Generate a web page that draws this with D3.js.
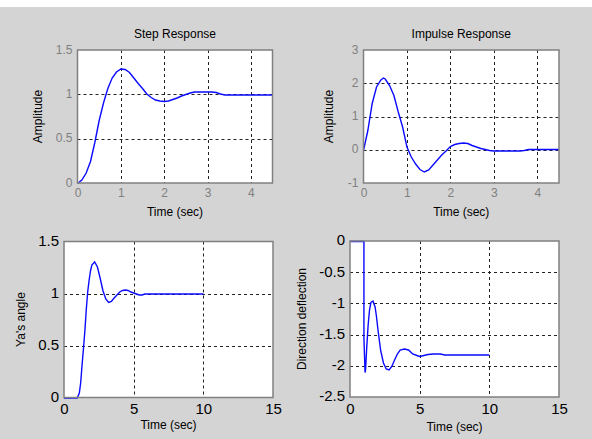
<!DOCTYPE html>
<html><head><meta charset="utf-8">
<script src="https://cdn.jsdelivr.net/npm/d3@7"></script>
<style>body{margin:0;background:#fff}svg{display:block}text{font-family:Arial,"Liberation Sans",sans-serif}</style>
</head><body>
<svg id="c" width="592" height="439"></svg>
<script>
// ---- data ----
const stepTime = [0,0.1,0.2,0.3,0.4,0.5,0.6,0.7,0.8,0.9,1.0,1.1,1.2,1.3,1.4,1.5,1.6,1.7,1.8,1.9,2.0,2.1,2.2,2.3,2.4,2.5,2.6,2.7,2.8,2.9,3.0,3.1,3.2,3.3,3.4,4.5];
const stepAmp  = [0,0.04,0.12,0.25,0.46,0.71,0.91,1.07,1.19,1.26,1.29,1.285,1.25,1.19,1.13,1.07,1.01,0.97,0.94,0.93,0.925,0.93,0.945,0.965,0.985,1.005,1.02,1.03,1.03,1.03,1.03,1.03,1.025,1.01,1.0,1.0];

const impTime = [0,0.1,0.2,0.3,0.4,0.46,0.5,0.6,0.7,0.8,0.9,1.0,1.1,1.2,1.3,1.4,1.5,1.6,1.7,1.8,1.9,2.0,2.1,2.2,2.3,2.4,2.5,2.6,2.7,2.8,2.9,3.0,3.6,3.7,3.8,4.5];
const impAmp  = [0,0.6,1.4,1.9,2.12,2.17,2.15,1.95,1.65,1.15,0.7,0.1,-0.2,-0.42,-0.58,-0.65,-0.6,-0.45,-0.3,-0.15,-0.02,0.12,0.17,0.21,0.22,0.2,0.15,0.1,0.06,0.03,0.0,-0.03,-0.03,0,0.02,0.02];

const yawTime  = [0,0.95,1.1,1.2,1.3,1.4,1.5,1.6,1.7,1.8,1.9,2.0,2.2,2.4,2.6,2.8,3.0,3.2,3.4,3.6,3.8,4.0,4.2,4.4,4.6,4.8,5.0,5.2,5.4,5.6,5.8,10];
const yawAngle = [0,0,0.05,0.15,0.32,0.48,0.65,0.85,1.02,1.13,1.22,1.28,1.31,1.26,1.15,1.03,0.95,0.92,0.93,0.96,0.99,1.02,1.035,1.04,1.035,1.02,1.01,1.0,0.99,0.99,1.0,1.0];

const dirTime = [0,1.0,1.0,1.08,1.12,1.2,1.3,1.4,1.5,1.65,1.8,1.9,2.0,2.2,2.4,2.6,2.8,3.0,3.2,3.4,3.6,3.9,4.2,4.5,4.8,5.0,5.3,5.6,6.0,6.5,6.8,7.0,10];
const dirDefl = [0,0,-1.55,-2.1,-2.05,-1.7,-1.35,-1.1,-0.98,-0.95,-1.05,-1.2,-1.4,-1.75,-1.95,-2.04,-2.06,-2.0,-1.9,-1.8,-1.74,-1.72,-1.74,-1.8,-1.83,-1.84,-1.83,-1.81,-1.8,-1.8,-1.815,-1.82,-1.82];

const topXTicks = [0,1,2,3,4];
const stepYTicks = [0,0.5,1,1.5];
const impYTicks = [-1,0,1,2,3];
const botXTicks = [0,5,10,15];
const yawYTicks = [0,0.5,1,1.5];
const dirYTicks = [-2.5,-2,-1.5,-1,-0.5,0];

const titles = ["Step Response","Impulse Response","",""];
const xLabels = ["Time (sec)","Time (sec)","Time (sec)","Time (sec)"];
const yLabels = ["Amplitude","Amplitude","Ya's angle","Direction deflection"];

// ---- layout ----
const svg = d3.select("#c");
svg.append("rect").attr("width",592).attr("height",439).attr("fill","#d4d4d4");
svg.append("rect").attr("width",592).attr("height",7).attr("fill","#ffffff");

const fmt = d => String(d);

const panels = [
  {l:77.5,r:272.5,t:50,b:183,xd:[0,4.5],yd:[0,1.5],xt:topXTicks,yt:stepYTicks,xs:stepTime,ys:stepAmp,
   tickFs:12,tickCol:"#808080",ylx:39,xly:213,title:titles[0],xl:xLabels[0],yl:yLabels[0],gx:[1,2,3,4],gy:[0.5,1]},
  {l:363.5,r:559,t:50,b:183,xd:[0,4.5],yd:[-1,3],xt:topXTicks,yt:impYTicks,xs:impTime,ys:impAmp,
   tickFs:12,tickCol:"#808080",ylx:330,xly:213,title:titles[1],xl:xLabels[1],yl:yLabels[1],gx:[1,2,3,4],gy:[0,1,2]},
  {l:64,r:273,t:241.5,b:397.5,xd:[0,15],yd:[0,1.5],xt:botXTicks,yt:yawYTicks,xs:yawTime,ys:yawAngle,
   tickFs:15,tickCol:"#000",ylx:22,xly:426,title:titles[2],xl:xLabels[2],yl:yLabels[2],gx:[5,10],gy:[0.5,1]},
  {l:350,r:559,t:241,b:397,xd:[0,15],yd:[-2.5,0],xt:botXTicks,yt:dirYTicks,xs:dirTime,ys:dirDefl,
   tickFs:15,tickCol:"#000",ylx:303,xly:428,title:titles[3],xl:xLabels[3],yl:yLabels[3],gx:[5,10],gy:[-2,-1.5,-1,-0.5]}
];

panels.forEach(p => {
  const x = d3.scaleLinear().domain(p.xd).range([p.l,p.r]);
  const y = d3.scaleLinear().domain(p.yd).range([p.b,p.t]);
  const g = svg.append("g");
  g.append("rect").attr("x",p.l).attr("y",p.t).attr("width",p.r-p.l).attr("height",p.b-p.t).attr("fill","#fff");
  // grid
  g.selectAll(".gx").data(p.gx).join("line").attr("x1",d=>Math.round(x(d))+0.5).attr("x2",d=>Math.round(x(d))+0.5).attr("y1",p.t).attr("y2",p.b)
    .attr("stroke","#222").attr("stroke-width",1).attr("stroke-dasharray","3,3");
  g.selectAll(".gy").data(p.gy).join("line").attr("y1",d=>Math.round(y(d))+0.5).attr("y2",d=>Math.round(y(d))+0.5).attr("x1",p.l).attr("x2",p.r)
    .attr("stroke","#222").attr("stroke-width",1).attr("stroke-dasharray","3,3");
  // curve
  const pts = p.xs.map((t,i)=>[t,p.ys[i]]);
  g.append("path").datum(pts).attr("d",d3.line().x(d=>x(d[0])).y(d=>Math.round(y(d[1])*2)/2+0.5))
    .attr("fill","none").attr("stroke","#0a0aff").attr("stroke-width",1.4);
  // box
  g.append("rect").attr("x",p.l).attr("y",p.t).attr("width",p.r-p.l).attr("height",p.b-p.t)
    .attr("fill","none").attr("stroke","#808080").attr("stroke-width",1.5);
  // axes (labels only)
  const xa = d3.axisBottom(x).tickValues(p.xt).tickSize(0).tickPadding(0).tickFormat(fmt);
  const ya = d3.axisLeft(y).tickValues(p.yt).tickSize(0).tickPadding(0).tickFormat(fmt);
  const gxA = g.append("g").attr("transform",`translate(0,${p.b})`).call(xa);
  const gyA = g.append("g").attr("transform",`translate(${p.l},0)`).call(ya);
  [gxA,gyA].forEach(a=>{a.select(".domain").remove();
    a.selectAll("text").attr("fill",p.tickCol).attr("font-size",p.tickFs).attr("font-family","Arial, 'Liberation Sans', sans-serif");});
  gxA.selectAll("text").attr("dy",null).attr("y",p.tickFs===12?11:13).attr("dominant-baseline","middle");
  gyA.selectAll("text").attr("x",-5).attr("dy",null).attr("dominant-baseline","middle");
  // titles / labels
  const cx = (p.l+p.r)/2;
  if (p.title) g.append("text").attr("x",cx).attr("y",35).attr("text-anchor","middle").attr("dominant-baseline","middle")
    .attr("font-size",12).text(p.title);
  g.append("text").attr("x",cx).attr("y",p.xly).attr("text-anchor","middle").attr("dominant-baseline","middle")
    .attr("font-size",12).text(p.xl);
  g.append("text").attr("transform",`translate(${p.ylx},${(p.t+p.b)/2}) rotate(-90)`).attr("text-anchor","middle")
    .attr("dominant-baseline","middle").attr("font-size",12).text(p.yl);
});
</script>
</body></html>
